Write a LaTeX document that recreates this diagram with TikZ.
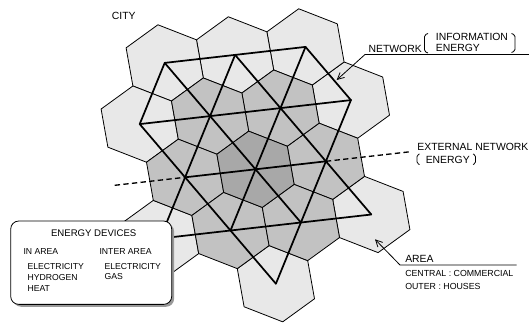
\documentclass[tikz,border=0pt]{standalone}
\usepackage{fontspec}
\setmainfont{Liberation Sans}
\usetikzlibrary{arrows.meta,shadows}

% one hexagonal area around the current origin (pixel units)
\newcommand{\hexpath}{(31.8,-23.07) -- (-6.8,-38.13) -- (-38.6,-15.07) -- (-31.8,23.07) -- (6.8,38.13) -- (38.6,15.07) -- cycle}

\begin{document}
\begin{tikzpicture}[
    x=0.75pt, y=-0.75pt,
    >={Straight Barb[length=5pt,width=5pt]},
    cell/.style={draw, line width=0.6pt, line join=round},
    outer/.style={cell, fill=black!9},
    ring/.style={cell, fill=black!24},
    core/.style={cell, fill=black!34},
    net/.style={line width=1.3pt, line cap=round},
    extnet/.style={line width=1pt, dash pattern=on 4pt off 2.5pt},
    pointer/.style={->, line width=0.6pt},
    brk/.style={line width=0.6pt, rounded corners=1.2pt},
    devbox/.style={draw, fill=white, rounded corners=6pt, line width=0.6pt,
                   minimum width=120.75pt, minimum height=62.5pt,
                   drop shadow={shadow xshift=1.8pt, shadow yshift=-1.8pt,
                                fill=black!40, opacity=1}},
    lbl/.style={inner sep=0pt, anchor=base west, font=\fontsize{7.8}{9}\selectfont},
    small/.style={inner sep=0pt, anchor=base west, font=\fontsize{6.5}{8}\selectfont}
  ]
  \useasboundingbox (0,0) rectangle (529,322);
  % lattice of area centres
  \foreach \i in {-2,...,2}
    \foreach \j in {-2,...,2}
      \coordinate (p\i\j) at ({255.5+70.4*\i+25*\j},{169.3-8*\i-61.2*\j});
  \coordinate (extR) at ({255.5+70.4*2.2},{169.3-8*2.2});
  % Areas
  \foreach \i/\j in {1/1,0/2,-1/2,-2/2,-2/1,-1/-1,1/-2,2/-1}
    \draw[outer, shift={(p\i\j)}] \hexpath;
  \foreach \i/\j in {1/0,0/1,-1/1,-1/0,0/-1,1/-1}
    \draw[ring, shift={(p\i\j)}] \hexpath;
  \draw[core, shift={(p00)}] \hexpath;
  % Network
  \draw[net] (p-22) -- (p02);
  \draw[net] (p-21) -- (p11);
  \draw[net] (p-10) -- (p10);
  \draw[net] (p-1-1) -- (p2-1);
  \draw[net] (p-21) -- (p-22);
  \draw[net] (p-1-1) -- (p-12);
  \draw[net] (p0-1) -- (p02);
  \draw[net] (p1-2) -- (p11);
  \draw[net] (p02) -- (p11);
  \draw[net] (p-12) -- (p2-1);
  \draw[net] (p-22) -- (p1-1);
  \draw[net] (p-21) -- (p1-2);
  % External network
  \draw[extnet] (p-20) -- (p-10);
  \draw[extnet] (p10) -- (extR);
  % Energy devices
  \node[devbox] (devices) at (91.2,262.7) {};
  \node[small, font=\fontsize{7.2}{9}\selectfont, anchor=base] (devtitle) at (93.7,236) {ENERGY DEVICES};
  \node[small] (inarea) at (23.3,254.3) {IN AREA};
  \node[small] (interarea) at (99.3,254.3) {INTER AREA};
  \node[small] (elecin) at (27.3,269.3) {ELECTRICITY};
  \node[small] (hydro) at (27.3,280.3) {HYDROGEN};
  \node[small] (heat) at (27.3,291) {HEAT};
  \node[small] (elecinter) at (104.3,269.3) {ELECTRICITY};
  \node[small] (gas) at (104.3,279.8) {GAS};
  % Labels
  \node[lbl] (city) at (111.7,19) {CITY};
  \node[lbl] (netlbl) at (368.3,52.8) {NETWORK};
  \node[lbl] (netinfo) at (435.7,40.7) {INFORMATION};
  \node[lbl] (netenergy) at (435.7,51.7) {ENERGY};
  \draw[brk] (428,33.5) -- (424.5,35) -- (424.5,51.5) -- (428,53);
  \draw[brk] (511.5,33.5) -- (515,35) -- (515,51) -- (511.5,52.5);
  \node[lbl] (extlbl) at (417.2,150) {EXTERNAL NETWORK};
  \node[lbl] (extenergy) at (425.5,163) {ENERGY};
  \draw[brk] (419.5,154) -- (417,155) -- (417,163.5) -- (419.5,164.5);
  \draw[brk] (473,154) -- (475.5,155) -- (475.5,163.5) -- (473,164.5);
  \node[lbl] (area) at (405,262.5) {AREA};
  \node[small, font=\fontsize{6.6}{8}\selectfont] (central) at (405,276) {CENTRAL : COMMERCIAL};
  \node[small, font=\fontsize{6.6}{8}\selectfont] (outerlbl) at (405,289.3) {OUTER : HOUSES};
  % Pointers
  \coordinate (netR) at (529,54.5);
  \coordinate (netL) at (365,54.5);
  \coordinate (netTip) at (336.7,80);
  \draw[pointer] (netR) -- (netL) -- (netTip);
  \coordinate (areaR) at (516.7,265);
  \coordinate (areaL) at (400,265);
  \coordinate (areaTip) at (375,239.3);
  \draw[pointer] (areaR) -- (areaL) -- (areaTip);
\end{tikzpicture}
\end{document}
